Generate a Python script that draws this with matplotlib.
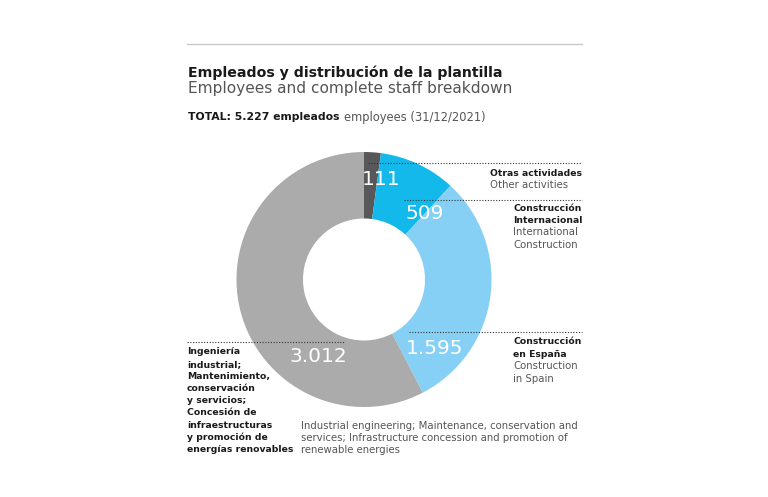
import matplotlib
matplotlib.use("Agg")
import matplotlib.pyplot as plt
from matplotlib.lines import Line2D

plt.rcParams['font.family'] = ['DejaVu Sans']

categories = ["Otras actividades", "Construcción Internacional", "Construcción en España",
              "Ingeniería industrial; Mantenimiento, conservación y servicios; Concesión de infraestructuras y promoción de energías renovables"]
values = [111, 509, 1595, 3012]
value_labels = ["111", "509", "1.595", "3.012"]
colors = ["#58585a", "#14b9ec", "#86d0f5", "#ababab"]

W, H = 768, 497
fig = plt.figure(figsize=(W / 100, H / 100), dpi=100)
fig.patch.set_facecolor("white")

cx, cy, R = 364, 279.5, 127.5
ax = fig.add_axes([(cx - R) / W, (H - cy - R) / H, 2 * R / W, 2 * R / H])
wedges, _ = ax.pie(values, colors=colors, startangle=90, counterclock=False,
                   radius=1.0, wedgeprops=dict(width=1 - 61 / R, linewidth=0))
ax.set_xlim(-1, 1)
ax.set_ylim(-1, 1)
ax.set_aspect("equal")
ax.axis("off")

def fx(x):
    return x / W

def fy(y):
    return 1 - y / H

# value labels (pixel positions of label centres)
label_pos = [(381, 180), (425, 214), (435, 348), (318, 356)]
for (x, y), t in zip(label_pos, value_labels):
    fig.text(fx(x), fy(y), t, color="white", fontsize=14.5, ha="center", va="center")

# top rule
fig.add_artist(Line2D([fx(187), fx(582)], [fy(44), fy(44)], color="#c8c8c8", lw=1.0))

# titles
fig.text(fx(188), fy(73), "Empleados y distribución de la plantilla", fontsize=10.2,
         fontweight="bold", color="#1a1a1a", ha="left", va="center")
fig.text(fx(188), fy(89), "Employees and complete staff breakdown", fontsize=11.1,
         color="#555555", ha="left", va="center")
t1 = fig.text(fx(188), fy(117), "TOTAL: 5.227 empleados", fontsize=7.8,
              fontweight="semibold", color="#1a1a1a", ha="left", va="center")
fig.canvas.draw()
bb = t1.get_window_extent()
fig.text(bb.x1 / W + 4 / W, fy(117), "employees (31/12/2021)", fontsize=8.3,
         color="#555555", ha="left", va="center")

# dotted leader lines
dots = dict(color="#333333", lw=0.8, linestyle=(0, (1, 1.5)))
for x0, x1, y in [(368, 582, 163), (404, 582, 200), (409, 582, 332), (187, 345, 342)]:
    fig.add_artist(Line2D([fx(x0), fx(x1)], [fy(y), fy(y)], **dots))

fs_b = 6.7
fs_l = 7.3
lh = 12.2

def block(x, y0, bold_lines, light_lines, ha="left"):
    y = y0
    for s in bold_lines:
        fig.text(fx(x), fy(y), s, fontsize=fs_b, fontweight="bold", color="#1a1a1a",
                 ha=ha, va="center")
        y += lh
    for s in light_lines:
        fig.text(fx(x), fy(y), s, fontsize=fs_l, color="#555555", ha=ha, va="center")
        y += lh

block(490, 173, ["Otras actividades"], ["Other activities"])
block(513, 208, ["Construcción", "Internacional"], ["International", "Construction"])
block(513, 342, ["Construcción", "en España"], ["Construction", "in Spain"])
block(187, 352, ["Ingeniería", "industrial;", "Mantenimiento,", "conservación",
                 "y servicios;", "Concesión de", "infraestructuras", "y promoción de",
                 "energías renovables"], [])
block(301, 426, [], ["Industrial engineering; Maintenance, conservation and",
                     "services; Infrastructure concession and promotion of",
                     "renewable energies"])

fig.savefig("out.png", dpi=100, facecolor="white")
